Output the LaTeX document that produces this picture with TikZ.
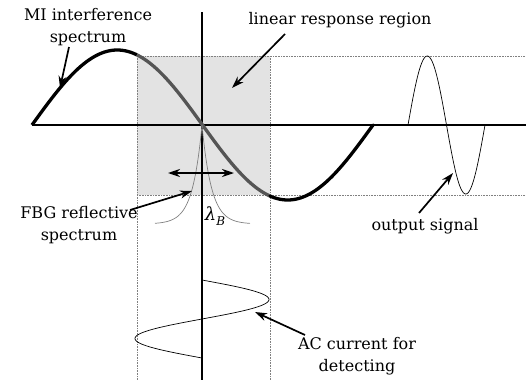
\documentclass[tikz,border=0pt]{standalone}
\usepackage{fontspec}
\setmainfont{DejaVu Serif}
\usetikzlibrary{arrows.meta}
\definecolor{regionfill}{HTML}{E3E3E3}
\definecolor{midcurve}{HTML}{555555}
\tikzset{
  lbl/.style={font=\fontsize{16}{22}\selectfont, align=center, inner sep=0pt},
  guide/.style={gray, densely dotted, line width=0.6pt},
  axis/.style={black, line width=1.3pt},
  thickcurve/.style={line width=3.3pt},
  thincurve/.style={line width=0.7pt},
  pointer/.style={line width=1.7pt, -{Stealth[length=12pt,width=8pt]}},
}
\begin{document}
\begin{tikzpicture}[x=1pt,y=-1pt]
\useasboundingbox (0,0) rectangle (526,380);
% shaded linear region
\fill[regionfill] (137,56) rectangle (270,195);
\draw[guide] (137,56) -- (526,56);
\draw[guide] (137,195) -- (526,195);
\draw[guide] (137,56) -- (137,380);
\draw[guide] (270,56) -- (270,380);
% axes
\draw[axis] (32,125) -- (526,125);
\draw[axis] (202,12) -- (202,380);
% MI interference spectrum
\draw[thickcurve, black] plot[domain=32:137, samples=60] (\x, {125-75*sin((\x-32)*1.05572)});
\draw[thickcurve, midcurve] plot[domain=137:270, samples=70] (\x, {125-75*sin((\x-32)*1.05572)});
\draw[thickcurve, black, line cap=round] plot[domain=270:373, samples=60] (\x, {125-75*sin((\x-32)*1.05572)});
% output signal
\draw[thincurve] plot[domain=408:485, samples=80] (\x, {125-69*sin((\x-408)*4.67532)});
% AC current
\draw[thincurve] plot[domain=280:358, samples=80] ({202+67*sin((\x-280)*4.61538)}, \x);
% FBG reflective spectrum
\draw[thincurve, gray] plot[domain=-47:0, samples=120] ({202+\x}, {224-99*exp(\x/9.5)});
\draw[thincurve, gray] plot[domain=0:48, samples=120] ({202+\x}, {224-99*exp(-\x/9.5)});
% double arrow
\coordinate (dl) at (168,173);
\coordinate (dr) at (234,173);
\draw[line width=1.7pt, {Stealth[length=12pt,width=8pt]}-{Stealth[length=12pt,width=8pt]}] (dl) -- (dr);
\node[inner sep=0pt] (lam) at (215,216) {\fontsize{18}{18}\selectfont\itshape λ\raisebox{-5pt}{\fontsize{12}{12}\selectfont B}};
% labels
\node[lbl] (mi) at (88,27) {MI interference\\spectrum};
\node[lbl] (lin) at (340,20) {linear response region};
\node[lbl] (fbg) at (79,225) {FBG reflective\\spectrum};
\node[lbl] (out) at (425,226) {output signal};
\node[lbl] (ac) at (357,356) {AC current for\\detecting};
% arrow ends
\coordinate (mis) at (69,47);   \coordinate (mit) at (60,88);
\coordinate (lins) at (285,34); \coordinate (lint) at (232,88);
\coordinate (fbgs) at (130,210);\coordinate (fbgt) at (192,191);
\coordinate (outs) at (419,213);\coordinate (outt) at (453,173);
\coordinate (acs) at (305,335); \coordinate (act) at (255,312);
\draw[pointer] (mis) -- (mit);
\draw[pointer] (lins) -- (lint);
\draw[pointer] (fbgs) -- (fbgt);
\draw[pointer] (outs) -- (outt);
\draw[pointer] (acs) -- (act);
\end{tikzpicture}
\end{document}
